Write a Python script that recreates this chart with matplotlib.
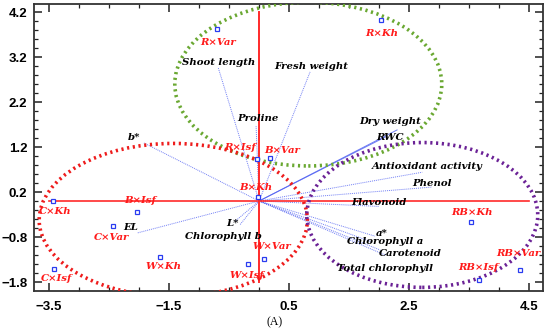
import matplotlib
matplotlib.use("Agg")
import matplotlib.pyplot as plt
from matplotlib.patches import Ellipse

# scores (treatment combinations)
score_names = ["R×Var", "R×Kh", "R×Isf", "B×Var", "B×Kh", "C×Kh", "B×Isf", "C×Var",
               "W×Kh", "C×Isf", "W×Var", "W×Isf", "RB×Kh", "RB×Var", "RB×Isf"]
score_x = [-0.70, 2.03, -0.03, 0.18, -0.02, -3.43, -2.03, -2.43,
           -1.65, -3.42, 0.08, -0.18, 3.53, 4.35, 3.67]
score_y = [3.82, 4.02, 0.93, 0.96, 0.09, 0.00, -0.24, -0.56,
           -1.24, -1.51, -1.29, -1.40, -0.47, -1.53, -1.75]

# loadings (measured traits)
var_names = ["Shoot length", "Fresh weight", "Proline", "b*", "Dry weight", "RWC",
             "Antioxidant activity", "Phenol", "Flavonoid", "a*", "Chlorophyll a",
             "Carotenoid", "Total chlorophyll", "L*", "Chlorophyll b", "EL"]
var_x = [-0.68, 0.85, -0.05, -1.92, 2.30, 2.10, 2.72, 2.88, 2.00, 1.93, 1.88,
         2.02, 2.10, -0.40, -0.32, -2.03]
var_y = [2.96, 2.87, 1.67, 1.29, 1.58, 1.42, 0.64, 0.31, -0.12, -0.78, -0.91,
         -1.09, -1.20, -0.45, -0.53, -0.71]

# label offsets in pixels (layout only)
score_off = {"R×Var": (1, -13), "R×Kh": (1, -13), "R×Isf": (-17, 12), "B×Var": (12, 7),
             "B×Kh": (-2, 9), "C×Kh": (2, -10), "B×Isf": (3, 11), "C×Var": (-2, -11),
             "W×Kh": (3, -10), "C×Isf": (3, -10), "W×Var": (8, 13), "W×Isf": (-1, -11),
             "RB×Kh": (1, 10), "RB×Var": (-2, 16), "RB×Isf": (-1, 12)}
var_off = {"Shoot length": (0, 5), "Fresh weight": (1, 5), "Proline": (2, 7), "b*": (-10, 5),
           "Dry weight": (-7, 8), "RWC": (5, 0), "Antioxidant activity": (5, 6),
           "Phenol": (0, 4), "Flavonoid": (0, 4), "a*": (7, 3), "Chlorophyll a": (13, 0),
           "Carotenoid": (30, -3), "Total chlorophyll": (0, -13), "L*": (-3, -2),
           "Chlorophyll b": (-16, -12), "EL": (-7, 5)}

fig = plt.figure(figsize=(5.5, 3.32), dpi=100)
ax = fig.add_axes([0.062, 0.1235, 0.925, 0.8645])
ax.set_xlim(-3.75, 4.73)
ax.set_ylim(-2.0, 4.38)

lab_font = dict(family="DejaVu Serif", weight="bold", style="italic", size=7.3)

# vectors
for name, x, y in zip(var_names, var_x, var_y):
    ls = "-" if name in ("Dry weight", "RWC") else (0, (1, 1))
    ax.plot([0, x], [0, y], color="#4d5ef2", lw=0.7, ls=ls, alpha=0.8, zorder=2)
    dx, dy = var_off[name]
    ax.annotate(name, (x, y), xytext=(dx, dy), textcoords="offset pixels",
                ha="center", va="center", color="black", zorder=5, **lab_font)

# origin axes
ax.plot([-3.5, 4.5], [0, 0], color="#ff2a2a", lw=1.2, zorder=3)
ax.plot([0, 0], [-1.8, 4.2], color="#ff2a2a", lw=1.4, zorder=3)

# group ellipses
for (cx, cy, w, h, col) in [(0.82, 2.60, 4.45, 3.64, "#6aa832"),
                            (-1.43, -0.42, 4.47, 3.40, "#ee1c1c"),
                            (2.72, -0.31, 3.85, 3.22, "#6b2296")]:
    ax.add_patch(Ellipse((cx, cy), w, h, fill=False, edgecolor=col, lw=2.6,
                         ls=(0, (0.6, 1.0)), zorder=4))

# scores
ax.plot(score_x, score_y, ls="none", marker="s", ms=3.0, mfc="white", mec="#2a3cf0",
        mew=0.9, zorder=6)
for name, x, y in zip(score_names, score_x, score_y):
    dx, dy = score_off[name]
    ax.annotate(name, (x, y), xytext=(dx, dy), textcoords="offset pixels",
                ha="center", va="center", color="#ff1a1a", zorder=7, **lab_font)

ax.set_xticks([-3.5, -1.5, 0.5, 2.5, 4.5])
ax.set_yticks([-1.8, -0.8, 0.2, 1.2, 2.2, 3.2, 4.2])
ax.set_xticks([-3.5 + 0.5 * i for i in range(17)], minor=True)
ax.set_yticks([-1.8 + 0.2 * i for i in range(31)], minor=True)
ax.tick_params(which="both", direction="in", top=True, right=True, color="#222222")
ax.tick_params(which="major", length=6, width=1.1)
ax.tick_params(which="minor", length=3, width=0.9)
ax.tick_params(axis="x", pad=7)
ax.tick_params(axis="y", pad=5)
for lab in ax.get_xticklabels() + ax.get_yticklabels():
    lab.set_fontfamily("Liberation Sans")
    lab.set_fontweight("bold")
    lab.set_fontsize(9.5)
for s in ax.spines.values():
    s.set_linewidth(1.3)
    s.set_color("#333333")

fig.text(0.5, 0.03, "(A)", ha="center", va="center", family="Liberation Serif", size=8.5)

fig.savefig("out.png", dpi=100)
